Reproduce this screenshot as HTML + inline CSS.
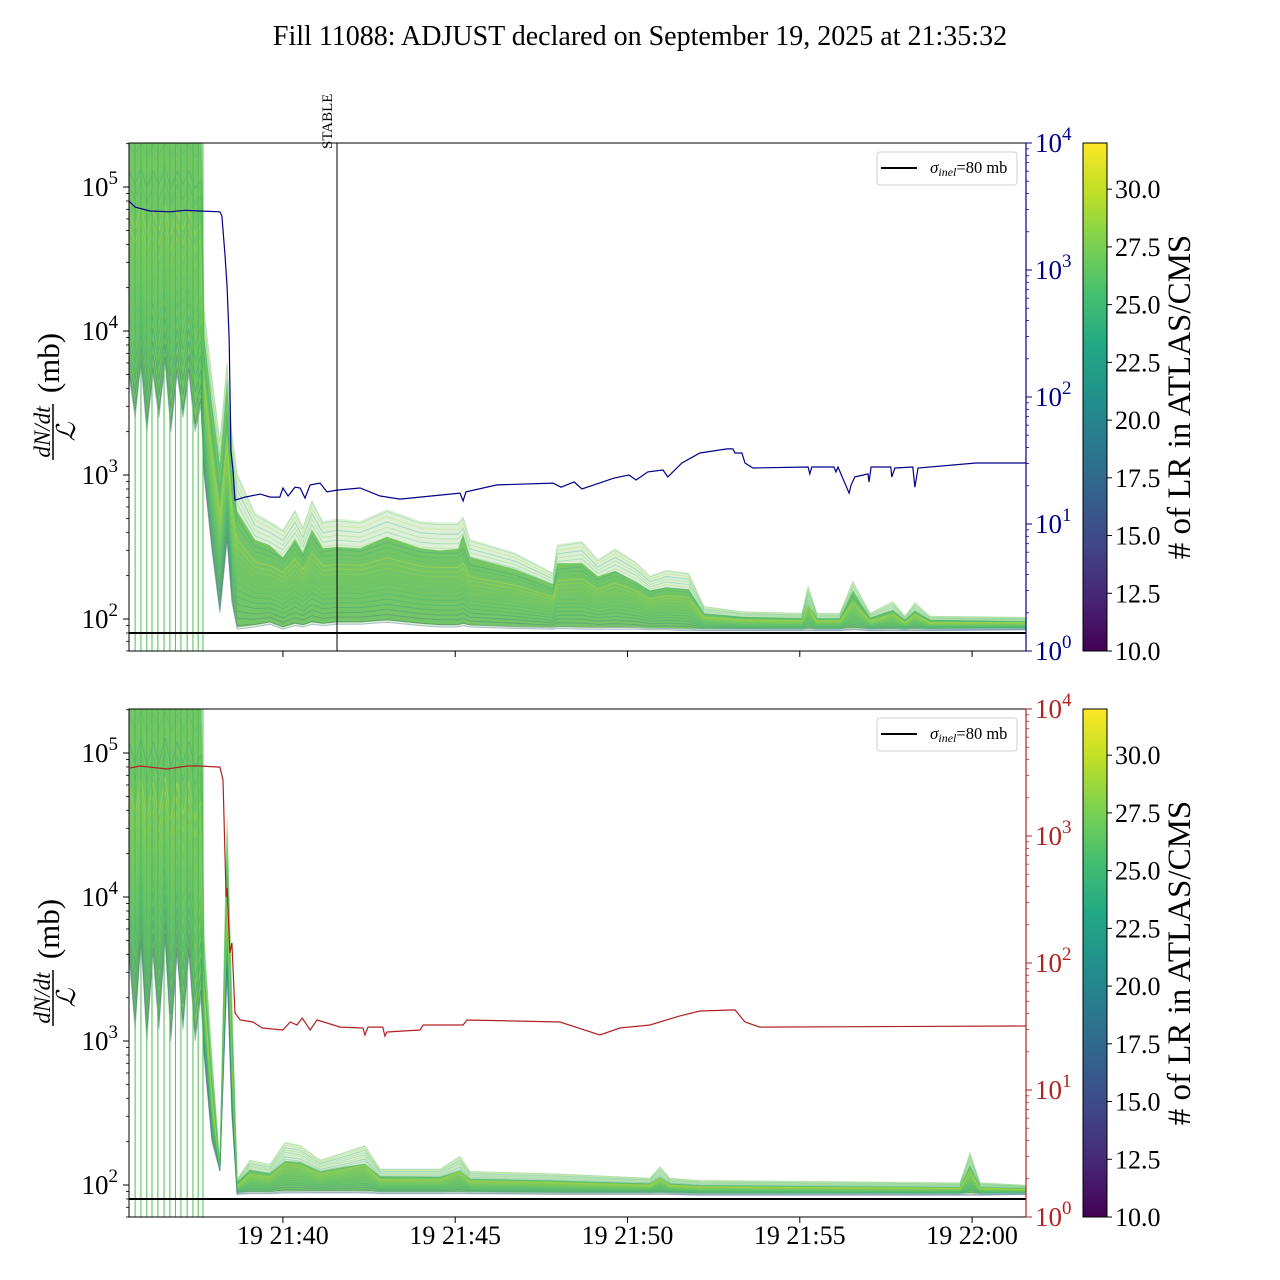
<!DOCTYPE html>
<html><head><meta charset="utf-8"><title>Fill 11088</title>
<style>
html,body{margin:0;padding:0;background:#fff;}
svg{display:block;font-family:"Liberation Serif","DejaVu Serif",serif;}
</style></head>
<body>
<svg id="chart" xmlns="http://www.w3.org/2000/svg" width="1280" height="1280" viewBox="0 0 1280 1280">
<defs>
<linearGradient id="viridis" x1="0" y1="1" x2="0" y2="0">
<stop offset="0" stop-color="#440154"/><stop offset="0.1" stop-color="#482475"/><stop offset="0.2" stop-color="#414487"/><stop offset="0.3" stop-color="#355f8d"/><stop offset="0.4" stop-color="#2a788e"/><stop offset="0.5" stop-color="#21918c"/><stop offset="0.6" stop-color="#22a884"/><stop offset="0.7" stop-color="#44bf70"/><stop offset="0.8" stop-color="#7ad151"/><stop offset="0.9" stop-color="#bddf26"/><stop offset="1" stop-color="#fde725"/>
</linearGradient>
<clipPath id="clipTop"><rect x="129" y="143" width="897" height="508"/></clipPath>
<clipPath id="clipBot"><rect x="129" y="709" width="897" height="508"/></clipPath>
</defs>
<text x="640" y="45" text-anchor="middle" font-size="28">Fill 11088: ADJUST declared on September 19, 2025 at 21:35:32</text>
</svg>
<script>
// ---- data (time in minutes past 21:00) ----
const xTickTimes = [40, 45, 50, 55, 60];
const xTickLabels = ["19 21:40", "19 21:45", "19 21:50", "19 21:55", "19 22:00"];
const leftTickValues = [100, 1000, 10000, 100000];
const leftTickExp = ["2", "3", "4", "5"];
const rightTickValues = [1, 10, 100, 1000, 10000];
const rightTickExp = ["0", "1", "2", "3", "4"];
const cbarTicks = [10, 12.5, 15, 17.5, 20, 22.5, 25, 27.5, 30];
const cbarTickLabels = ["10.0", "12.5", "15.0", "17.5", "20.0", "22.5", "25.0", "27.5", "30.0"];
const stableTime = 41.57;
const sigmaInel = 80;
const injLineTimes = [35.71, 35.88, 36.05, 36.20, 36.37, 36.55, 36.72, 36.88, 37.04, 37.22, 37.39, 37.54, 37.68];

const topBandTimes = [35.53,35.71,35.88,36.05,36.23,36.40,36.58,36.75,36.93,37.10,37.27,37.45,37.62,37.71,37.94,38.17,38.38,38.52,38.67,39.19,39.62,40.00,40.35,40.58,40.84,41.16,41.57,42.24,43.02,43.98,44.56,45.08,45.23,45.43,46.73,47.84,47.96,48.68,49.14,49.64,50.25,50.65,51.12,51.78,52.22,53.32,55.06,55.24,55.50,56.16,56.54,57.04,57.70,58.05,58.34,58.78,61.56];
const topBandUpper = [5e5,5e5,5e5,5e5,5e5,5e5,5e5,5e5,5e5,5e5,5e5,5e5,5e5,15000,5000,1800,6400,2000,1050,550,480,420,580,440,680,480,500,480,580,480,470,470,520,360,290,210,330,350,260,310,250,200,220,210,123,113,110,170,110,110,185,110,133,105,131,105,103];
const topBandMid = [3e5,3e5,3e5,3e5,3e5,3e5,3e5,3e5,3e5,3e5,3e5,3e5,3e5,6000,2000,800,3000,700,300,230,220,170,220,190,260,200,200,200,240,200,190,200,290,200,170,145,180,170,150,150,130,125,125,123,97,95,93,95,93,93,135,95,100,93,100,93,90];
const topBandLower = [5000,2500,6000,2000,5000,2500,6000,2000,5000,2500,5000,2000,3000,1000,300,110,350,130,85,88,92,85,90,88,92,90,92,92,95,90,88,88,90,88,86,85,86,85,85,85,85,84,84,83,83,83,83,83,83,83,84,83,83,83,83,83,84];

const botBandTimes = [35.53,35.71,35.88,36.05,36.23,36.40,36.58,36.75,36.93,37.10,37.27,37.45,37.62,37.71,37.94,38.17,38.38,38.52,38.67,39.04,39.62,40.06,40.50,41.08,41.80,42.38,42.82,44.56,45.14,45.43,48.04,50.65,50.94,51.23,52.09,59.65,59.94,60.23,61.56];
const botBandUpper = [5e5,5e5,5e5,5e5,5e5,5e5,5e5,5e5,5e5,5e5,5e5,5e5,5e5,5600,800,135,37000,2000,110,150,140,200,190,150,170,190,130,130,160,125,120,112,135,112,108,104,170,104,100];
const botBandMid = [3e5,3e5,3e5,3e5,3e5,3e5,3e5,3e5,3e5,3e5,3e5,3e5,3e5,2500,400,130,10000,800,100,108,104,108,110,104,106,104,102,100,100,98,96,94,96,94,92,90,110,90,90];
const botBandLower = [4000,1200,5000,1000,4000,1200,5000,1000,4000,1200,4000,1000,2000,800,200,125,3000,300,86,87,87,88,88,88,88,88,87,87,87,87,86,86,86,86,85,85,85,85,86];

const blueTimes = [35.53,35.71,36.14,36.72,37.16,37.59,38.17,38.23,38.32,38.38,38.44,38.49,38.55,38.61,38.90,39.34,39.63,39.91,40.00,40.15,40.35,40.50,40.64,40.79,41.08,41.28,41.57,42.24,42.82,43.40,44.56,45.14,45.23,45.31,46.21,47.84,48.07,48.45,48.68,49.61,50.04,50.25,50.59,51.03,51.17,51.58,52.10,52.89,53.06,53.12,53.32,53.41,53.64,55.24,55.29,55.35,55.99,56.05,56.11,56.43,56.49,56.60,56.98,57.01,57.07,57.64,57.67,57.76,58.28,58.34,58.43,60.11,61.56];
const blueValues = [3490,3130,2915,2870,2950,2915,2870,2660,1310,735,281,38,26.6,15.4,16.3,17.2,16.3,16.3,19.2,16.6,19.5,19.2,16.0,20.3,21.0,17.9,18.5,19.2,16.6,15.7,16.9,17.5,15.2,17.9,20.3,21.0,19.5,21.4,18.9,23.0,24.3,22.2,25.7,26.6,23.5,30.2,36.2,39.0,39.0,36.2,36.2,30.2,27.6,28.1,24.8,28.1,28.1,25.7,28.1,17.5,20.3,23.5,24.8,21.4,28.1,28.1,23.5,27.6,28.1,19.5,27.6,30.2,30.2];

const redTimes = [35.56,35.85,36.64,37.22,37.59,38.17,38.26,38.35,38.38,38.46,38.52,38.61,38.76,39.13,39.40,40.00,40.21,40.41,40.56,40.79,40.99,41.28,41.66,42.32,42.38,42.47,42.90,42.96,43.02,43.98,44.07,45.23,45.34,48.04,49.20,49.78,50.65,51.52,52.10,53.12,53.41,53.84,61.56];
const redValues = [3430,3560,3370,3560,3560,3490,2760,331,390,120,144,40.4,35.6,34.3,30.8,29.7,34.3,32.5,36.9,29.7,35.6,33.7,31.3,30.8,27.1,31.3,31.3,26.6,28.6,29.7,32.5,32.5,35.6,34.3,27.1,30.8,32.5,38.3,41.9,42.7,34.3,31.3,31.9];

// band line LR counts (colour values)
const bandLineLR = [14, 17, 19, 21, 23, 24, 25, 26, 27, 28, 29, 30, 31, 26, 24, 22, 28, 25, 27, 23, 29, 26];

// ---- geometry ----
const svg = document.getElementById('chart');
const NS = 'http://www.w3.org/2000/svg';
const X0 = 129, X1 = 1026, T0 = 35.533, T1 = 61.565;
const PH = 508;
const panels = [{top:143, clip:'clipTop', rc:'#00008b', key:'top'}, {top:709, clip:'clipBot', rc:'#b22222', key:'bottom'}];
const LMIN = 1.7778, LMAX = 5.3056;
function xs(t){ return X0 + (t - T0) / (T1 - T0) * (X1 - X0); }
function yl(p, v){ const l = Math.log10(Math.max(v, 1e-9)); return p.top + (LMAX - l) / (LMAX - LMIN) * PH; }
function yr(p, v){ return p.top + (4 - Math.log10(v)) / 4 * PH; }
function cy(p, v){ return p.top + PH - (v - 10) / 22 * PH; }
function mk(tag, attrs, parent){ const e = document.createElementNS(NS, tag); for (const k in attrs) e.setAttribute(k, attrs[k]); (parent || svg).appendChild(e); return e; }
const VIR = ['#440154','#482475','#414487','#355f8d','#2a788e','#21918c','#22a884','#44bf70','#7ad151','#bddf26','#fde725'];
function viridis(v){ let f = Math.min(1, Math.max(0, (v - 10) / 22)) * 10; const i = Math.min(9, Math.floor(f)); const a = VIR[i], b = VIR[i+1], r = f - i;
  const c = [1,3,5].map(k => Math.round(parseInt(a.substr(k,2),16)*(1-r) + parseInt(b.substr(k,2),16)*r));
  return 'rgb(' + c.join(',') + ')'; }
function supLabel(parent, x, y, base, exp, color, anchor){
  const t = mk('text', {x:x, y:y, 'font-size':27, fill:color, 'text-anchor':anchor}, parent);
  t.appendChild(document.createTextNode(base));
  const s = mk('tspan', {dy:-12, 'font-size':19}, t); s.textContent = exp;
  return t; }

function drawPanel(p, bandT, bandU, bandM, bandL, lineT, lineV, lineName){
  const g = mk('g', {});
  
  
  const cg = mk('g', {'clip-path':'url(#' + p.clip + ')'}, g);
  // band outer
  let pts = bandT.map((t,i) => xs(t).toFixed(1) + ',' + yl(p, bandU[i]).toFixed(1));
  for (let i = bandT.length - 1; i >= 0; i--) pts.push(xs(bandT[i]).toFixed(1) + ',' + yl(p, bandL[i]).toFixed(1));
  const outer = mk('polygon', {points: pts.join(' '), fill:'#9dd58c', 'fill-opacity':0.35}, cg);
  
  
  // band core
  let pts2 = bandT.map((t,i) => xs(t).toFixed(1) + ',' + yl(p, Math.sqrt(bandM[i]*bandU[i])).toFixed(1));
  for (let i = bandT.length - 1; i >= 0; i--) pts2.push(xs(bandT[i]).toFixed(1) + ',' + yl(p, bandL[i]*1.03).toFixed(1));
  const core = mk('polygon', {points: pts2.join(' '), fill:'#62bd55', 'fill-opacity':0.85}, cg);
  
  
  // per-bunch lines
  bandLineLR.forEach((lr, k) => {
    const f = (k + 0.5) / bandLineLR.length;
    const d = bandT.map((t,i) => { const lv = Math.log10(bandL[i]) * (1-f) + Math.log10(bandU[i]) * f; return (i ? 'L' : 'M') + xs(t).toFixed(1) + ',' + yl(p, Math.pow(10, lv)).toFixed(1); }).join('');
    const pl = mk('path', {d:d, fill:'none', stroke:viridis(lr), 'stroke-width':1, 'stroke-opacity':0.3}, cg);
    
    
  });
  // lower bluish edge lines
  const dl = bandT.map((t,i) => (i ? 'L' : 'M') + xs(t).toFixed(1) + ',' + yl(p, bandL[i]).toFixed(1)).join('');
  const el = mk('path', {d:dl, fill:'none', stroke:'#3b6f8e', 'stroke-width':1, 'stroke-opacity':0.4}, cg);
  
  
  // injection lines
  injLineTimes.forEach(t => {
    const vl = mk('line', {x1:xs(t), x2:xs(t), y1:p.top, y2:p.top+PH, stroke:'#4cbf4c', 'stroke-width':1}, cg);
    
    
  });
  // sigma line
  const sl = mk('line', {x1:X0, x2:X1, y1:yl(p, sigmaInel), y2:yl(p, sigmaInel), stroke:'#000', 'stroke-width':2}, cg);
  
  
  // right-axis line
  const d = lineT.map((t,i) => (i ? 'L' : 'M') + xs(t).toFixed(1) + ',' + yr(p, lineV[i]).toFixed(1)).join('');
  const rl = mk('path', {d:d, fill:'none', stroke:p.rc, 'stroke-width':1.2}, cg);
  
  
  // frame
  const fr = mk('rect', {x:X0, y:p.top, width:X1-X0, height:PH, fill:'none', stroke:'#000', 'stroke-width':1}, g);
  
  
  mk('line', {x1:X1, x2:X1, y1:p.top, y2:p.top+PH, stroke:p.rc, 'stroke-width':1.2}, g);
  // left ticks
  for (let dcd = 1; dcd <= 5; dcd++) for (let m = 1; m <= 9; m++) {
    const v = m * Math.pow(10, dcd); const y = yl(p, v);
    if (y < p.top - 0.5 || y > p.top + PH + 0.5) continue;
    mk('line', {x1:X0, x2:X0 - (m === 1 ? 6 : 3), y1:y, y2:y, stroke:'#000', 'stroke-width':m === 1 ? 1 : 0.8}, g);
  }
  leftTickValues.forEach((v,i) => {
    const t = supLabel(g, X0 - 11, yl(p, v) + 9, '10', leftTickExp[i], '#000', 'end');
    
    
  });
  // right ticks
  for (let dcd = 0; dcd <= 3; dcd++) for (let m = 1; m <= 9; m++) {
    const y = yr(p, m * Math.pow(10, dcd));
    mk('line', {x1:X1, x2:X1 + (m === 1 ? 6 : 3), y1:y, y2:y, stroke:p.rc, 'stroke-width':m === 1 ? 1 : 0.8}, g);
  }
  mk('line', {x1:X1, x2:X1 + 6, y1:yr(p, 1e4), y2:yr(p, 1e4), stroke:p.rc}, g);
  rightTickValues.forEach((v,i) => {
    const t = supLabel(g, X1 + 9, yr(p, v) + 9, '10', rightTickExp[i], p.rc, 'start');
    
    
  });
  // x ticks
  xTickTimes.forEach((t,i) => {
    mk('line', {x1:xs(t), x2:xs(t), y1:p.top+PH, y2:p.top+PH+6, stroke:'#000'}, g);
    if (p.key === 'bottom') {
      const tl = mk('text', {x:xs(t), y:p.top+PH+27, 'font-size':26, 'text-anchor':'middle'}, g);
      tl.textContent = xTickLabels[i];
      
      
    }
  });
  // y label
  const yg = mk('g', {transform:'translate(48,' + (p.top + 254) + ') rotate(-90)'}, g);
  
  
  const num = mk('text', {x:-35, y:2, 'font-size':23, 'font-style':'italic', 'text-anchor':'middle'}, yg); num.textContent = 'dN/dt';
  mk('line', {x1:-63, x2:-7, y1:5, y2:5, stroke:'#000', 'stroke-width':1.5}, yg);
  const den = mk('text', {x:-35, y:27, 'font-size':26, 'font-style':'italic', 'text-anchor':'middle'}, yg); den.textContent = 'ℒ';
  const mb = mk('text', {x:34, y:11, 'font-size':31, 'text-anchor':'middle'}, yg); mb.textContent = '(mb)';
  // legend
  const lg = mk('g', {}, g);
  
  
  mk('rect', {x:877, y:p.top+9, width:140, height:33, rx:3, fill:'#fff', 'fill-opacity':0.85, stroke:'#d0d0d0'}, lg);
  mk('line', {x1:881, x2:917, y1:p.top+25, y2:p.top+25, stroke:'#000', 'stroke-width':2}, lg);
  const lt = mk('text', {x:930, y:p.top+30, 'font-size':16.5}, lg);
  const s1 = mk('tspan', {'font-style':'italic', 'font-size':17}, lt); s1.textContent = 'σ';
  const s2 = mk('tspan', {'font-style':'italic', 'font-size':12, dy:3}, lt); s2.textContent = 'inel';
  const s3 = mk('tspan', {dy:-3}, lt); s3.textContent = '=80 mb';
  // colorbar
  const cb = mk('g', {}, g);
  
  
  mk('rect', {x:1083, y:p.top, width:24, height:PH, fill:'url(#viridis)', stroke:'#000', 'stroke-width':1}, cb);
  cbarTicks.forEach((v,i) => {
    const y = cy(p, v);
    mk('line', {x1:1107, x2:1112, y1:y, y2:y, stroke:'#000'}, cb);
    const ct = mk('text', {x:1115, y:y + 9, 'font-size':26}, cb); ct.textContent = cbarTickLabels[i];
  });
  const cl = mk('text', {x:0, y:0, 'font-size':33, 'text-anchor':'middle', transform:'translate(1190,' + (p.top + 254) + ') rotate(-90)'}, cb);
  cl.textContent = '# of LR in ATLAS/CMS';
  
  
}

drawPanel(panels[0], topBandTimes, topBandUpper, topBandMid, topBandLower, blueTimes, blueValues, 'top-right-axis-line');
drawPanel(panels[1], botBandTimes, botBandUpper, botBandMid, botBandLower, redTimes, redValues, 'bottom-right-axis-line');

// stable marker
const st = mk('line', {x1:xs(stableTime), x2:xs(stableTime), y1:143, y2:651, stroke:'#000', 'stroke-width':1});


const stt = mk('text', {x:0, y:0, 'font-size':15, 'text-anchor':'start', transform:'translate(' + (xs(stableTime) - 5) + ',149) rotate(-90)'});
stt.textContent = 'STABLE';


</script>
</body></html>
